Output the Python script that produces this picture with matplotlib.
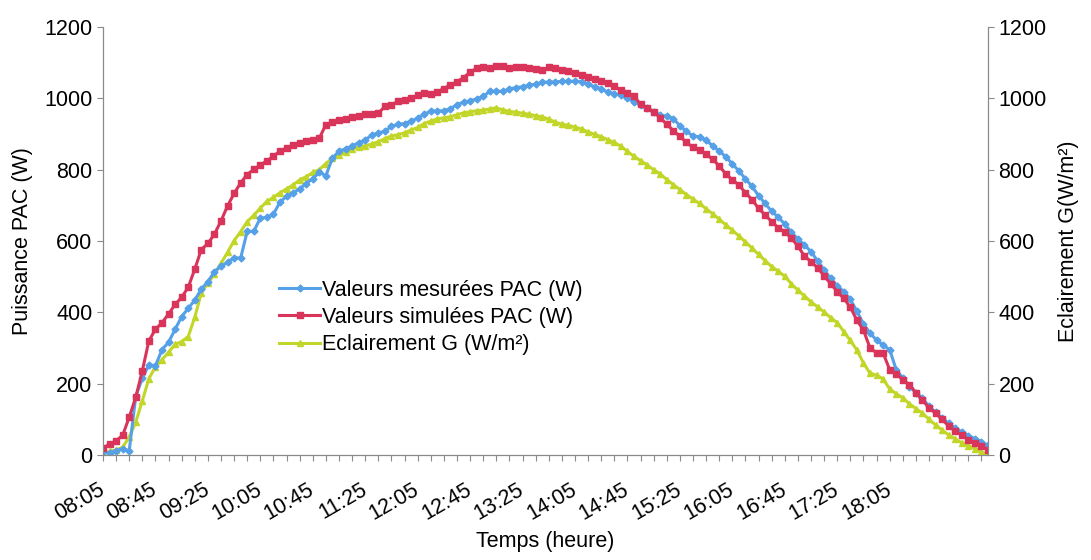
"""plot.py

Puissance AC mesurée / simulée et éclairement sur une journée.
"""

import matplotlib

# Use the 'Agg' backend for non-GUI rendering
matplotlib.use("Agg")

# flake8: noqa: E402
import matplotlib.pyplot as plt

# One sample every 5 minutes, starting at 08:05
measured_pac = [
    8, 6, 12, 18, 12, 165, 215, 253, 250, 295,
    316, 352, 388, 411, 434, 465, 486, 514, 529, 540,
    553, 552, 627, 627, 664, 666, 675, 709, 725, 735,
    746, 761, 775, 792, 783, 832, 852, 858, 866, 875,
    883, 897, 902, 908, 921, 927, 929, 936, 944, 955,
    964, 964, 965, 971, 982, 989, 993, 998, 1005, 1019,
    1020, 1019, 1026, 1030, 1032, 1037, 1039, 1045, 1045, 1046,
    1047, 1047, 1048, 1046, 1039, 1032, 1027, 1017, 1013, 1008,
    1000, 989, 982, 973, 962, 952, 950, 943, 923, 907,
    894, 892, 882, 867, 852, 836, 816, 796, 774, 753,
    727, 705, 683, 667, 647, 625, 605, 589, 570, 544,
    519, 495, 475, 458, 436, 403, 367, 342, 322, 308,
    295, 239, 216, 192, 175, 159, 136, 120, 103, 89,
    75, 65, 54, 46, 37, 27,
]
simulated_pac = [
    20, 30, 40, 55, 106, 162, 236, 320, 352, 371,
    395, 422, 442, 470, 521, 576, 593, 619, 656, 698,
    733, 763, 786, 801, 812, 825, 837, 852, 860, 869,
    875, 880, 884, 888, 926, 933, 938, 941, 946, 950,
    955, 956, 958, 977, 982, 991, 995, 1000, 1009, 1014,
    1011, 1018, 1027, 1038, 1046, 1058, 1073, 1084, 1087, 1085,
    1090, 1090, 1085, 1087, 1088, 1086, 1083, 1078, 1087, 1084,
    1078, 1076, 1071, 1065, 1060, 1054, 1048, 1042, 1033, 1022,
    1014, 1006, 983, 973, 962, 945, 927, 909, 893, 876,
    862, 855, 843, 829, 810, 788, 771, 757, 735, 716,
    691, 673, 654, 637, 626, 608, 585, 558, 542, 525,
    502, 480, 458, 439, 414, 378, 350, 300, 286, 286,
    239, 228, 211, 197, 175, 153, 133, 117, 100, 81,
    67, 56, 43, 33, 26, 13,
]
irradiance = [
    5, 10, 14, 22, 50, 92, 152, 214, 247, 267,
    288, 310, 318, 332, 386, 454, 482, 507, 537, 568,
    601, 626, 654, 672, 692, 711, 722, 735, 746, 757,
    771, 780, 792, 800, 817, 832, 840, 849, 857, 863,
    866, 872, 878, 887, 894, 898, 903, 911, 918, 929,
    936, 942, 945, 948, 954, 959, 962, 965, 967, 970,
    973, 967, 963, 961, 958, 955, 951, 948, 941, 933,
    927, 924, 919, 914, 905, 899, 892, 884, 876, 865,
    851, 837, 825, 813, 799, 788, 772, 758, 744, 730,
    717, 705, 690, 676, 661, 645, 630, 614, 597, 580,
    562, 545, 528, 515, 501, 480, 462, 446, 429, 415,
    401, 385, 371, 346, 321, 294, 258, 229, 224, 213,
    185, 172, 160, 144, 130, 117, 100, 84, 70, 56,
    45, 34, 26, 18, 9, 0,
]
time_labels = [
    "08:05", "08:45", "09:25", "10:05", "10:45", "11:25", "12:05", "12:45",
    "13:25", "14:05", "14:45", "15:25", "16:05", "16:45", "17:25", "18:05",
]

# Set the font properties for plots
plt.rcParams["font.family"] = ["Liberation Sans", "DejaVu Sans"]
plt.rcParams["font.size"] = 15.5

AXIS_GREY = "#8a8a8a"
BLUE = "#55A0E6"
RED = "#D9345A"
GREEN = "#C2D62A"

fig = plt.figure(figsize=(10.91, 5.60), dpi=100)
ax = fig.add_axes((0.0944, 0.1875, 0.8112, 0.7645))
ax2 = ax.twinx()

x = list(range(len(measured_pac)))

(l1,) = ax.plot(
    x, measured_pac, color=BLUE, lw=2.2, marker="D", ms=3.5,
    label="Valeurs mesurées PAC (W)",
)
(l2,) = ax.plot(
    x, simulated_pac, color=RED, lw=2.2, marker="s", ms=4.5,
    label="Valeurs simulées PAC (W)",
)
(l3,) = ax2.plot(
    x, irradiance, color=GREEN, lw=2.2, marker="^", ms=4,
    label="Eclairement G (W/m²)",
)
ax.set_zorder(ax2.get_zorder() + 1)
ax.patch.set_visible(False)

for a in (ax, ax2):
    a.set_xlim(0, len(x) - 1)
    a.set_ylim(0, 1200)
    a.set_yticks(range(0, 1201, 200))
    a.spines["top"].set_visible(False)
    for side in ("left", "right", "bottom"):
        a.spines[side].set_color(AXIS_GREY)
        a.spines[side].set_linewidth(0.8)
    a.tick_params(colors=AXIS_GREY, labelcolor="black", length=4, width=0.8)

# Labelled ticks every 40 minutes, small ticks every 10 minutes
ax.set_xticks(range(0, 8 * len(time_labels), 8))
ax.set_xticks(range(0, len(x), 2), minor=True)
ax.set_xticklabels(
    time_labels, rotation=30, ha="right", va="center", rotation_mode="anchor"
)
ax.tick_params(axis="x", which="both", length=4, width=0.8, pad=20)
ax.tick_params(axis="x", which="minor", colors=AXIS_GREY)

ax.set_xlabel("Temps (heure)", labelpad=5)
ax.set_ylabel("Puissance PAC (W)", labelpad=8)
ax2.set_ylabel("Eclairement G(W/m²)", labelpad=8)

ax.legend(
    handles=[l1, l2, l3],
    loc="upper left",
    bbox_to_anchor=(0.246, 0.52),
    bbox_transform=fig.transFigure,
    frameon=False,
    handlelength=1.9,
    handletextpad=0.1,
    labelspacing=0.3,
    borderpad=0,
)

plt.savefig("out.png", dpi=100)
plt.close()
